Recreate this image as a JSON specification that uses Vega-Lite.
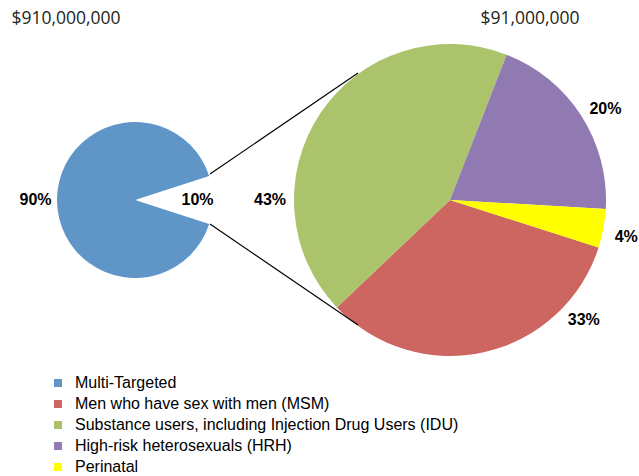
{
  "$schema": "https://vega.github.io/schema/vega-lite/v6.json",
  "width": 639,
  "height": 364,
  "autosize": "none",
  "padding": {"left": 0, "top": 18, "right": 0, "bottom": 94},
  "background": "white",
  "config": {"view": {"stroke": null}},
  "datasets": {
    "slices": [
      {"pie": "$910,000,000", "segment": "Multi-Targeted", "share": 0.90, "seq": 1},
      {"pie": "$910,000,000", "segment": "Targeted populations", "share": 0.10, "seq": 2},
      {"pie": "$91,000,000", "segment": "Men who have sex with men (MSM)", "share": 0.33, "seq": 1},
      {"pie": "$91,000,000", "segment": "Substance users, including Injection Drug Users (IDU)", "share": 0.43, "seq": 2},
      {"pie": "$91,000,000", "segment": "High-risk heterosexuals (HRH)", "share": 0.20, "seq": 3},
      {"pie": "$91,000,000", "segment": "Perinatal", "share": 0.04, "seq": 4}
    ],
    "links": [
      {"pie": "$910,000,000", "to": "$91,000,000"}
    ]
  },
  "encoding": {
    "x": {
      "field": "pie",
      "type": "nominal",
      "scale": {"type": "point", "domain": ["$910,000,000", "$91,000,000"], "padding": 0.51429, "align": 0.41667},
      "axis": {
        "orient": "top",
        "title": null,
        "domain": false,
        "ticks": false,
        "tickSize": 0,
        "grid": false,
        "labelAngle": 0,
        "labelPadding": 0,
        "labelBaseline": "middle",
        "labelFont": "Open Sans",
        "labelFontSize": 17.5,
        "labelColor": "#231f20",
        "labelOverlap": false,
        "labelAlign": {"condition": {"test": "datum.value === '$910,000,000'", "value": "right"}, "value": "left"},
        "labelOffset": {"condition": {"test": "datum.value === '$910,000,000'", "value": -15}, "value": 30}
      }
    }
  },
  "layer": [
    {
      "data": {"name": "slices"},
      "transform": [{"filter": "datum.segment === 'Multi-Targeted'"}],
      "mark": {"type": "arc", "radius": 78},
      "encoding": {
        "theta": {"field": "share", "type": "quantitative", "stack": true, "scale": {"domain": [0, 1], "range": [1.885, 8.168]}},
        "color": {
          "field": "segment",
          "type": "nominal",
          "scale": {
            "domain": ["Multi-Targeted", "Men who have sex with men (MSM)", "Substance users, including Injection Drug Users (IDU)", "High-risk heterosexuals (HRH)", "Perinatal"],
            "range": ["#5f96c7", "#cd6660", "#abc46c", "#9179b1", "#ffff00"]
          },
          "legend": {
            "orient": "none",
            "legendX": 50,
            "legendY": 357,
            "title": null,
            "padding": 0,
            "symbolType": "square",
            "symbolSize": 64,
            "symbolStrokeWidth": 0,
            "labelFont": "Liberation Sans",
            "labelFontSize": 16,
            "labelColor": "#000000",
            "labelOffset": 9,
            "labelLimit": 0,
            "rowPadding": 5
          }
        }
      }
    },
    {
      "data": {"name": "slices"},
      "transform": [{"filter": "datum.pie === '$91,000,000'"}],
      "mark": {"type": "arc", "radius": 156},
      "encoding": {
        "theta": {"field": "share", "type": "quantitative", "stack": true, "scale": {"domain": [0, 1], "range": [1.8797, 8.1629]}},
        "order": {"field": "seq", "type": "quantitative"},
        "color": {"field": "segment", "type": "nominal"}
      }
    },
    {
      "data": {"name": "slices"},
      "transform": [{"filter": "datum.pie === '$910,000,000'"}],
      "mark": {"type": "text", "font": "Liberation Sans", "fontWeight": "bold", "fontSize": 16, "color": "#000000"},
      "encoding": {
        "theta": {"field": "share", "type": "quantitative", "stack": true, "scale": {"domain": [0, 1], "range": [1.885, 8.168]}},
        "order": {"field": "seq", "type": "quantitative"},
        "radius": {"field": "share", "type": "quantitative", "scale": {"type": "linear", "zero": false, "domain": [0.1, 0.9], "range": [62.5, 99.5]}},
        "text": {"field": "share", "type": "quantitative", "format": ".0%"}
      }
    },
    {
      "data": {"name": "slices"},
      "transform": [{"filter": "datum.pie === '$91,000,000'"}],
      "mark": {"type": "text", "font": "Liberation Sans", "fontWeight": "bold", "fontSize": 16, "color": "#000000", "radius": 180},
      "encoding": {
        "theta": {"field": "share", "type": "quantitative", "stack": true, "scale": {"domain": [0.165, 0.545, 0.86, 0.98], "range": [2.3038, 4.7124, 7.3252, 8.0599]}},
        "order": {"field": "seq", "type": "quantitative"},
        "text": {"field": "share", "type": "quantitative", "format": ".0%"}
      }
    },
    {
      "data": {"name": "links"},
      "mark": {"type": "rule", "color": "#000000", "strokeWidth": 1.2, "xOffset": 75, "x2Offset": -92, "yOffset": -26, "y2Offset": -127},
      "encoding": {
        "x2": {"field": "to"},
        "y": {"value": {"expr": "height/2"}},
        "y2": {"value": {"expr": "height/2"}}
      }
    },
    {
      "data": {"name": "links"},
      "mark": {"type": "rule", "color": "#000000", "strokeWidth": 1.2, "xOffset": 75, "x2Offset": -92, "yOffset": 24, "y2Offset": 125},
      "encoding": {
        "x2": {"field": "to"},
        "y": {"value": {"expr": "height/2"}},
        "y2": {"value": {"expr": "height/2"}}
      }
    }
  ],
  "resolve": {"scale": {"theta": "independent", "radius": "independent"}}
}
